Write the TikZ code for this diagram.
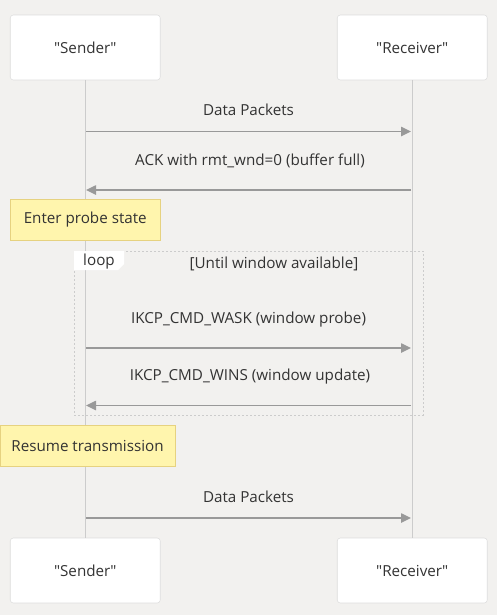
\documentclass[tikz,border=0pt]{standalone}
\usepackage{fontspec}
\setmainfont{Open Sans}
\usetikzlibrary{arrows.meta}
\definecolor{bg}{HTML}{F2F1EF}
\definecolor{actborder}{HTML}{DDDDDD}
\definecolor{life}{HTML}{CCCCCC}
\definecolor{msg}{HTML}{999999}
\definecolor{txt}{HTML}{333333}
\definecolor{notefill}{HTML}{FFF5AD}
\definecolor{noteborder}{HTML}{E6D280}
\definecolor{loopborder}{HTML}{CCCCCC}
\begin{document}
\begin{tikzpicture}[x=0.75pt,y=-0.75pt,
  fnt/.style={font=\fontsize{11.4pt}{13pt}\selectfont},
  actor/.style={fnt,draw=actborder,fill=white,rounded corners=2.25pt,minimum width=112.5pt,minimum height=48.75pt,inner sep=0pt,text=txt},
  lifeline/.style={draw=life,line width=1.1pt},
  msgline/.style={draw=msg,line width=1.1pt,-{Triangle[length=7.5pt,width=7pt]}},
  lbl/.style={fnt,text=txt,inner sep=0pt},
  notebox/.style={fnt,draw=noteborder,fill=notefill,inner sep=0pt,text=txt},
]
\fill[bg] (0,0) rectangle (497,615);
\useasboundingbox (0,0) rectangle (497,615);
% actors
\node[actor] (st) at (85.25,47.5) {\textquotedbl Sender\textquotedbl};
\node[actor] (rt) at (412.25,47.5) {\textquotedbl Receiver\textquotedbl};
\node[actor] (sb) at (85.25,570.5) {\textquotedbl Sender\textquotedbl};
\node[actor] (rb) at (412.25,570.5) {\textquotedbl Receiver\textquotedbl};
\draw[lifeline] (st.south) -- (sb.north);
\draw[lifeline] (rt.south) -- (rb.north);
% messages
\coordinate (s1) at (86,131.5); \coordinate (r1) at (411,131.5);
\draw[msgline] (s1) -- (r1);
\node[lbl] (l1) at (248.5,110) {Data Packets};
\coordinate (s2) at (86,190); \coordinate (r2) at (411,190);
\draw[msgline] (r2) -- (s2);
\node[lbl] (l2) at (250,161) {ACK with rmt\_wnd=0 (buffer full)};
% note 1
\node[notebox,minimum width=112.5pt,minimum height=30.75pt] (n1) at (85.25,219.5) {Enter probe state};
% loop
\draw[loopborder,line width=0.75pt,dash pattern=on 1.5pt off 1.5pt] (74,251) rectangle (423,415);
\fill[white] (74,251) -- (124,251) -- (124,264) -- (118,270) -- (74,270) -- cycle;
\node[lbl] (lp) at (99,262) {loop};
\node[lbl] (cond) at (274,264) {[Until window available]};
\coordinate (s3) at (86,348); \coordinate (r3) at (411,348);
\draw[msgline] (s3) -- (r3);
\node[lbl] (l3) at (248.5,320) {IKCP\_CMD\_WASK (window probe)};
\coordinate (s4) at (86,405.5); \coordinate (r4) at (411,405.5);
\draw[msgline] (r4) -- (s4);
\node[lbl] (l4) at (250,377) {IKCP\_CMD\_WINS (window update)};
% note 2
\node[notebox,minimum width=131.25pt,minimum height=30.75pt] (n2) at (87.5,445.5) {Resume transmission};
% last message
\coordinate (s5) at (86,518); \coordinate (r5) at (411,518);
\draw[msgline] (s5) -- (r5);
\node[lbl] (l5) at (248.5,497) {Data Packets};
\end{tikzpicture}
\end{document}
